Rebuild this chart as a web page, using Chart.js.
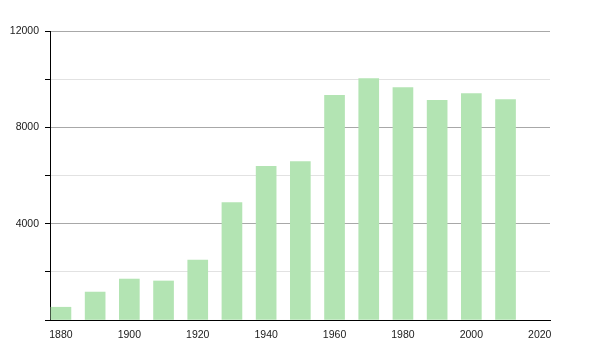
<!DOCTYPE html>
<html lang="en">
<head>
  <meta charset="UTF-8">
  <title>Population</title>
  <script src="https://cdn.jsdelivr.net/npm/chart.js@4.4.1/dist/chart.umd.min.js"></script>
  <style>
    html, body {
      margin: 0;
      padding: 0;
      background: #fff;
    }

    #wrap {
      width: 600px;
      height: 350px;
    }
  </style>
</head>
<body>
<div id="wrap">
  <canvas id="popChart"></canvas>
</div>

<script>
  // census years and population
  const years = [1880, 1890, 1900, 1910, 1920, 1930, 1940, 1950, 1960, 1970, 1980, 1990, 2000, 2010];
  const population = [530, 1160, 1700, 1620, 2490, 4880, 6380, 6580, 9330, 10020, 9650, 9120, 9400, 9150];
  const xTickYears = [1880, 1900, 1920, 1940, 1960, 1980, 2000, 2020];
  const yLabelStep = 4000;

  const points = years.map((yr, i) => ({x: yr, y: population[i]}));

  const ctx = document.getElementById('popChart').getContext('2d');
  const chart = new Chart(ctx, {
    type: 'bar',
    data: {
      datasets: [{
        data: points,
        backgroundColor: '#b3e4b3',
        borderWidth: 0,
        barThickness: 20
      }]
    },
    options: {
      responsive: true,
      maintainAspectRatio: false,
      animation: false,
      layout: {
        padding: {top: 31, right: 50, left: 0, bottom: 0}
      },
      plugins: {
        legend: {display: false},
        tooltip: {enabled: false}
      },
      scales: {
        x: {
          type: 'linear',
          offset: false,
          min: 1876.8,
          max: 2023,
          afterBuildTicks: (scale) => {
            scale.ticks = xTickYears.map(v => ({value: v}));
          },
          afterFit: (scale) => {
            scale.height = 30;
          },
          grid: {display: false, offset: false},
          border: {display: true, color: '#000', width: 1},
          ticks: {
            padding: 1,
            maxRotation: 0,
            autoSkip: false,
            color: '#1a1a1a',
            font: {family: 'Liberation Sans', size: 10.5},
            callback: (v) => String(v)
          }
        },
        y: {
          min: 0,
          max: 12000,
          afterFit: (scale) => {
            scale.width = 50;
          },
          border: {display: true, color: '#000', width: 1},
          grid: {
            color: (c) => (c.tick && c.tick.value % yLabelStep === 0) ? '#a8a8a8' : '#e2e2e2',
            tickColor: '#000',
            tickLength: 5
          },
          ticks: {
            stepSize: 2000,
            padding: 6,
            color: '#1a1a1a',
            font: {family: 'Liberation Sans', size: 10.5},
            callback: (v) => (v % yLabelStep === 0 && v !== 0) ? String(v) : ''
          }
        }
      }
    }
  });
</script>
</body>
</html>
